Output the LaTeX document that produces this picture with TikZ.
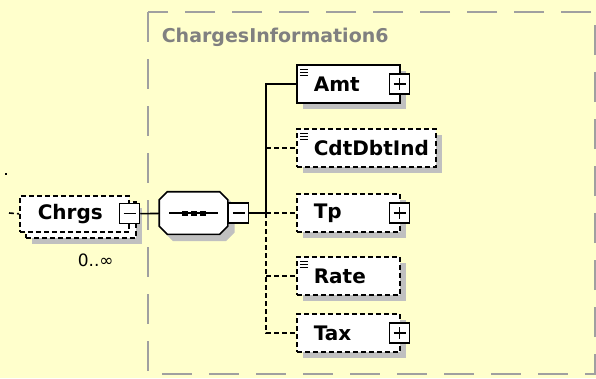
\documentclass[tikz,border=0pt]{standalone}
\usepackage{fontspec}
\setmainfont{DejaVu Sans}
\usepackage{tikz}
\usetikzlibrary{shadows,positioning}
\definecolor{xsdbg}{HTML}{FFFFCC}
\definecolor{xsdshadow}{HTML}{C0C0C0}
\definecolor{xsdframe}{HTML}{A0A0A0}
\definecolor{xsdtitle}{HTML}{808080}

\begin{document}
\begin{tikzpicture}[x=1pt, y=-1pt, line width=1.6pt,
  font=\fontsize{20}{23}\selectfont\bfseries,
  elem/.style={rectangle, draw, fill=white, anchor=west, minimum height=38pt, inner xsep=17pt, inner ysep=0pt, text width=#1, align=left},
  opt/.style={dash pattern=on 5pt off 3pt},
  boxshadow/.style={general shadow={fill=xsdshadow, shadow xshift=6pt, shadow yshift=-6pt}},
  doc/.style={path picture={\foreach \dy in {4,7,10} \draw[solid, line width=1pt] ([shift={(3pt,-\dy pt)}]path picture bounding box.north west) -- ++(8pt,0pt);}},
  pm/.style={rectangle, draw, solid, fill=white, line width=1.3pt, minimum size=20pt, inner sep=0pt},
  plusbox/.style={pm, path picture={\draw[line width=1.3pt] ([xshift=4pt]path picture bounding box.west) -- ([xshift=-4pt]path picture bounding box.east) ([yshift=-4pt]path picture bounding box.north) -- ([yshift=4pt]path picture bounding box.south);}},
  minusbox/.style={pm, path picture={\draw[line width=1.3pt] ([xshift=4pt]path picture bounding box.west) -- ([xshift=-4pt]path picture bounding box.east);}},
  seqbox/.style={rectangle, minimum width=67pt, minimum height=41pt, inner sep=0pt}]
  \path[use as bounding box, fill=xsdbg] (0,0) rectangle (596,378);
  % complex type frame
  \draw[xsdframe, line width=2pt, dash pattern=on 30pt off 17pt] (148,12) rectangle (595,374);
  \node[anchor=west, text=xsdtitle, inner sep=0pt, font=\fontsize{19}{22}\selectfont\bfseries] (title) at (161,37) {ChargesInformation6};
  % repeated element
  \fill (5,173) rectangle (7,175);
  \node[rectangle, draw, opt, fill=white, minimum width=110pt, minimum height=36pt, anchor=north west, boxshadow] (chrgsb) at (25,201) {};
  \node[elem=73pt, opt, minimum height=36pt, inner xsep=18pt, anchor=north west] (chrgs) at (19,195) {Chrgs};
  \node[minusbox] (chrgsm) at (chrgs.east) {};
  \node[anchor=west, inner sep=0pt, font=\fontsize{17}{19}\selectfont] (occurs) at (77,260) {0..∞};
  \coordinate (in) at (9,213);
  \draw[opt] (in) -- (chrgs.west);
  % sequence
  \node[seqbox] (seq) at (193.5,213) {};
  \foreach \sh/\col in {6/xsdshadow, 0/white}
    \path[draw=\col, fill=\col, transform canvas={shift={(\sh pt,-\sh pt)}}]
      ([xshift=8pt]seq.north west) -- ([xshift=-8pt]seq.north east)
      -- ([yshift=-8pt]seq.north east) -- ([yshift=8pt]seq.south east)
      -- ([xshift=-8pt]seq.south east) -- ([xshift=8pt]seq.south west)
      -- ([yshift=8pt]seq.south west) -- ([yshift=-8pt]seq.north west) -- cycle;
  \draw ([xshift=8pt]seq.north west) -- ([xshift=-8pt]seq.north east)
      -- ([yshift=-8pt]seq.north east) -- ([yshift=8pt]seq.south east)
      -- ([xshift=-8pt]seq.south east) -- ([xshift=8pt]seq.south west)
      -- ([yshift=8pt]seq.south west) -- ([yshift=-8pt]seq.north west) -- cycle;
  \draw[line width=1.3pt] ([xshift=10pt]seq.west) -- ([xshift=-10pt]seq.east);
  \foreach \dx in {-9,0,9}
    \fill ([xshift=\dx pt]seq.center) ++(-3,-2.5) rectangle ++(6,5);
  \node[minusbox] (seqm) at ([xshift=11pt]seq.east) {};
  \draw (chrgsm) -- (seq);
  \coordinate (fork) at (266,213);
  \draw (seqm) -- (fork);
  % children
  \node[elem=69pt, doc, boxshadow] (amt) at (296,84) {Amt};
  \node[elem=105pt, opt, doc, boxshadow] (cdt) at (296,148) {CdtDbtInd};
  \node[elem=69pt, opt, boxshadow] (tp) at (296,213) {Tp};
  \node[elem=69pt, opt, doc, boxshadow] (rate) at (296,276) {Rate};
  \node[elem=69pt, opt, boxshadow] (tax) at (296,333) {Tax};
  \node[plusbox] (amtp) at ([xshift=-1pt]amt.east) {};
  \node[plusbox] (tpp) at ([xshift=-1pt]tp.east) {};
  \node[plusbox] (taxp) at ([xshift=-1pt]tax.east) {};
  \draw (fork) |- (amt.west);
  \draw[opt] (fork |- cdt.west) -- (cdt.west);
  \draw[opt] (fork) -- (tp.west);
  \draw[opt] (fork) |- (tax.west);
  \draw[opt] (fork |- rate.west) -- (rate.west);
\end{tikzpicture}
\end{document}
